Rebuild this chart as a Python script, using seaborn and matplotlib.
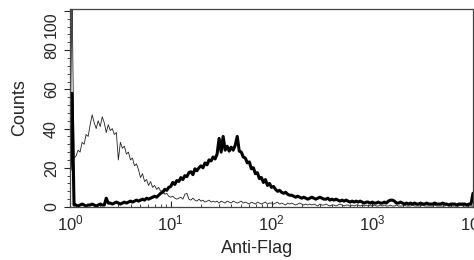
import numpy as np
import pandas as pd
import matplotlib
matplotlib.use('Agg')
import matplotlib.pyplot as plt
import seaborn as sns
from matplotlib.ticker import MultipleLocator, LogLocator, NullFormatter

# 4 log decades, 50 channels per decade (201 channels incl. the last one)
channels_per_decade = 50
n_decades = 4

# control (thin line), counts per channel
control_counts = [
    24, 110, 25, 26, 29, 28, 33, 32, 37, 36,
    42, 47, 43, 40, 44, 41, 46, 43, 38, 42,
    39, 40, 37, 38, 24, 33, 30, 31, 27, 28,
    24, 25, 21, 22, 19, 15, 17, 13, 14, 11,
    13, 10, 11, 9, 10, 8, 8.5, 6.5, 7, 5.5,
    5, 5.5, 4.5, 4, 4.5, 5, 4, 6.5, 7, 4,
    3.5, 4.5, 3.5, 3, 4, 3, 3.5, 2.5, 3, 3.5,
    2.5, 3, 2.5, 3, 2, 3, 2.5, 2, 3, 2.5,
    2, 3, 2.5, 2, 2.5, 3, 2, 2.5, 2, 1.5,
    2.5, 2, 1.5, 2.5, 2, 1.5, 2, 2.5, 1.5, 2,
    2, 1.5, 2, 2.5, 1.5, 2, 1.5, 1, 2, 1.5,
    2, 1.5, 1, 1.5, 2, 1.5, 1, 1.5, 1, 1.5,
    1, 1.5, 1, 0.5, 1.5, 1, 1, 1.5, 1, 0.5,
    1, 1, 0.5, 1, 1.5, 1, 0.5, 1, 1, 0.5,
    1, 0.5, 1, 1, 0.5, 1, 0.5, 1, 0.5, 1,
    0.5, 1, 0.5, 0.5, 1, 0.5, 1, 0.5, 0.5, 1,
    0.5, 0.5, 1, 0.5, 0.5, 0.5, 1, 0.5, 0.5, 0.5,
    1, 0.5, 0.5, 0.5, 0.5, 1, 0.5, 0.5, 0.5, 0.5,
    0.5, 1, 0.5, 0.5, 0.5, 0.5, 0.5, 1, 0.5, 0.5,
    0.5, 0.5, 0.5, 0.5, 1, 0.5, 0.5, 0.5, 0.5, 0.5,
    0.5,
]

# Anti-Flag stained (thick line)
flag_counts = [
    19, 58, 1, 1, 0.5, 1, 1.5, 1, 0.5, 1,
    1, 1.5, 1, 0.5, 1, 1.5, 1, 1, 4.5, 2,
    2, 1.5, 2, 2.5, 2, 1.5, 2, 2.5, 2, 2.5,
    3, 2.5, 3, 3.5, 3, 3.5, 4, 3.5, 4.5, 4,
    4.5, 5, 5.5, 5, 6, 7, 7.5, 9, 8.5, 10,
    10.5, 12.5, 11.5, 13.5, 13, 15, 14, 16, 15.5, 17.5,
    18, 16.5, 19.5, 18.5, 20, 21, 20, 22.5, 21.5, 24,
    23.5, 25.5, 24.5, 27, 35, 28, 36, 29, 31, 28.5,
    30.5, 29, 31.5, 36, 28.5, 28, 25.5, 25, 22.5, 23,
    19.5, 20, 17, 17.5, 14.5, 15, 12.5, 14, 11, 12,
    10, 10.5, 9, 8, 8.5, 7.5, 7, 7.5, 6.5, 6,
    6, 5.5, 5, 5.5, 5, 4.5, 5, 4.5, 4, 4.5,
    5, 4.5, 4, 4.5, 5, 4.5, 4, 4, 4.5, 3.5,
    4, 3.5, 4, 3.5, 3, 3.5, 3, 3.5, 3, 2.5,
    3, 2.5, 3, 2.5, 3, 2.5, 2, 2.5, 2.5, 2,
    2.5, 2, 2, 2.5, 2, 2, 2.5, 2, 3, 3.5,
    3.5, 3, 2, 2, 2.5, 2, 1.5, 2, 1.5, 2,
    1.5, 2, 1.5, 1.5, 2, 1.5, 1.5, 2, 1.5, 1.5,
    1.5, 2, 1.5, 1.5, 1.5, 2, 1.5, 1.5, 1, 1.5,
    1.5, 1.5, 1, 1.5, 1.5, 1.5, 1.5, 1, 1.5, 1.5,
    7,
]

y_ticks = [0, 20, 40, 60, 80, 100]

fluor = 10 ** (np.arange(len(flag_counts)) / channels_per_decade)

df = pd.DataFrame({'Anti-Flag': fluor, 'control': control_counts, 'flag': flag_counts})

sns.set_style('ticks')
plt.rcParams['font.family'] = ['Liberation Sans', 'DejaVu Sans']
plt.rcParams['mathtext.fontset'] = 'custom'
plt.rcParams['mathtext.rm'] = 'Liberation Sans'
plt.rcParams['mathtext.it'] = 'Liberation Sans:italic'

fig = plt.figure(figsize=(4.74, 2.6), dpi=100)
ax = fig.add_axes([70 / 474, 53 / 260, 403 / 474, 198 / 260])

sns.lineplot(data=df, x='Anti-Flag', y='control', ax=ax, color='#222222', lw=0.6)
sns.lineplot(data=df, x='Anti-Flag', y='flag', ax=ax, color='black', lw=2.2)

ax.set_xscale('log')
ax.set_xlim(1, 10 ** n_decades)
ax.set_ylim(0, 101)
ax.xaxis.set_major_locator(LogLocator(base=10, numticks=10))
ax.xaxis.set_minor_locator(LogLocator(base=10, subs=np.arange(2, 10), numticks=20))
ax.xaxis.set_minor_formatter(NullFormatter())
ax.set_yticks(y_ticks)
ax.set_yticklabels([str(t) for t in y_ticks])
ax.yaxis.set_minor_locator(MultipleLocator(4))

ax.tick_params(axis='x', which='major', direction='in', length=4, width=0.8, labelsize=12, pad=5)
ax.tick_params(axis='x', which='minor', direction='in', length=2.5, width=0.6)
ax.tick_params(axis='y', which='major', direction='out', length=4, width=0.8, labelsize=11.5, pad=4)
ax.tick_params(axis='y', which='minor', direction='out', length=2.5, width=0.6)
ylabels = ax.get_yticklabels()
for lbl in ylabels:
    lbl.set_rotation(90)
    lbl.set_va('center')
ylabels[-1].set_va('top')  # top label sits just below the frame

for s in ax.spines.values():
    s.set_linewidth(0.9)
    s.set_color('#444444')

ax.set_xlabel('Anti-Flag', fontsize=13)
ax.set_ylabel('Counts', fontsize=13)
ax.xaxis.set_label_coords(0.465, -0.165)
ax.yaxis.set_label_coords(-0.105, 0.5)

plt.savefig('out.png', dpi=100)
plt.close()
